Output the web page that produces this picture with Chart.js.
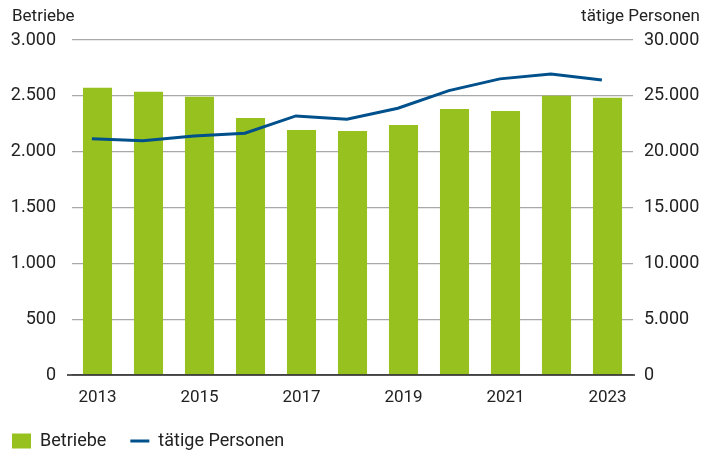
<!DOCTYPE html>
<html>
<head>
<meta charset="utf-8">
<script src="https://cdn.jsdelivr.net/npm/chart.js@4"></script>
<style>
  html, body { margin: 0; padding: 0; background: #fff; }
  #wrap { width: 705px; height: 456px; }
</style>
</head>
<body>
<div id="wrap"><canvas id="c" width="705" height="456"></canvas></div>
<script>
// Jahre, Betriebe (linke Achse) und tätige Personen (rechte Achse)
const years = ['2013', '2014', '2015', '2016', '2017', '2018', '2019', '2020', '2021', '2022', '2023'];
const betriebe = [2572, 2536, 2491, 2302, 2194, 2185, 2239, 2383, 2365, 2500, 2482];
const personen = [21160, 20980, 21400, 21650, 23200, 22900, 23890, 25470, 26520, 26950, 26410];
const leftTicks = [0, 500, 1000, 1500, 2000, 2500, 3000];
const rightTicks = [0, 5000, 10000, 15000, 20000, 25000, 30000];
const leftCaption = 'Betriebe';
const rightCaption = 'tätige Personen';

const FONT = 'Roboto, "Liberation Sans", sans-serif';
const TEXT = '#222';
const GREEN = '#96c11f';
const BLUE = '#00508c';

const fmt = v => v.toLocaleString('de-DE');

// Achsenbeschriftungen über den beiden y-Achsen
const captions = {
  id: 'captions',
  afterDraw(chart) {
    const ctx = chart.ctx;
    ctx.save();
    ctx.fillStyle = TEXT;
    ctx.font = '17px ' + FONT;
    ctx.textBaseline = 'middle';
    ctx.textAlign = 'left';
    ctx.fillText(leftCaption, 12, 17);
    ctx.textAlign = 'right';
    ctx.fillText(rightCaption, 700, 17);
    ctx.restore();
  }
};

// Nulllinie, etwas breiter als die Zeichenfläche
const baseline = {
  id: 'baseline',
  afterDatasetsDraw(chart) {
    const y = chart.scales.y.getPixelForValue(0);
    const ctx = chart.ctx;
    ctx.save();
    ctx.strokeStyle = '#222';
    ctx.lineWidth = 1.5;
    ctx.beginPath();
    ctx.moveTo(chart.chartArea.left - 5, y);
    ctx.lineTo(chart.chartArea.right + 2, y);
    ctx.stroke();
    ctx.restore();
  }
};

new Chart(document.getElementById('c'), {
  data: {
    labels: years,
    datasets: [
      {
        type: 'line',
        label: 'tätige Personen',
        data: years.map((y, i) => ({ x: Number(y), y: personen[i] })),
        borderColor: BLUE,
        backgroundColor: BLUE,
        borderWidth: 3,
        pointRadius: 0,
        tension: 0,
        xAxisID: 'xLine',
        yAxisID: 'y2',
        order: 0
      },
      {
        type: 'bar',
        label: 'Betriebe',
        data: betriebe,
        backgroundColor: GREEN,
        borderWidth: 0,
        grouped: false,
        barPercentage: 0.57,
        categoryPercentage: 1,
        xAxisID: 'x',
        yAxisID: 'y',
        order: 1
      }
    ]
  },
  options: {
    responsive: false,
    animation: false,
    devicePixelRatio: 1,
    // negative left padding lets the legend start near the canvas edge
    layout: { padding: { top: 40, left: -12, right: 0, bottom: -4 } },
    plugins: {
      tooltip: { enabled: false },
      legend: {
        position: 'bottom',
        align: 'start',
        reverse: true,
        labels: {
          color: TEXT,
          font: { family: FONT, size: 18 },
          usePointStyle: true,
          pointStyleWidth: 19,
          boxWidth: 19,
          boxHeight: 15,
          padding: 24,
          generateLabels(chart) {
            return chart.data.datasets.map((ds, i) => ({
              text: ds.label,
              datasetIndex: i,
              fillStyle: ds.type === 'bar' ? GREEN : BLUE,
              strokeStyle: ds.type === 'bar' ? GREEN : BLUE,
              lineWidth: ds.type === 'bar' ? 0 : 3,
              pointStyle: ds.type === 'bar' ? 'rect' : 'line',
              fontColor: TEXT,
              hidden: false
            }));
          }
        }
      }
    },
    scales: {
      x: {
        type: 'category',
        offset: true,
        grid: { display: false, drawTicks: false },
        border: { display: false },
        ticks: {
          color: TEXT,
          font: { family: FONT, size: 17 },
          padding: 13,
          maxRotation: 0,
          autoSkip: false,
          callback(v, i) { return i % 2 === 0 ? years[i] : ''; }
        },
        afterFit(s) { s.height = 33; }
      },
      xLine: {
        type: 'linear',
        display: false,
        min: 2012.61,
        max: 2023.61
      },
      y: {
        position: 'left',
        min: 0,
        max: 3000,
        afterBuildTicks(s) { s.ticks = leftTicks.map(v => ({ value: v })); },
        grid: { color: '#a8a8a8', lineWidth: 1.2, drawTicks: false },
        border: { display: false },
        ticks: {
          color: TEXT,
          font: { family: FONT, size: 18 },
          padding: 16,
          callback: v => fmt(v)
        },
        afterFit(s) { s.width = 84; }
      },
      y2: {
        position: 'right',
        min: 0,
        max: 30000,
        afterBuildTicks(s) { s.ticks = rightTicks.map(v => ({ value: v })); },
        grid: { drawOnChartArea: false, drawTicks: false },
        border: { display: false },
        ticks: {
          color: TEXT,
          font: { family: FONT, size: 18 },
          padding: 11,
          callback: v => fmt(v)
        },
        afterFit(s) { s.width = 72; }
      }
    }
  },
  plugins: [captions, baseline]
});
</script>
</body>
</html>
